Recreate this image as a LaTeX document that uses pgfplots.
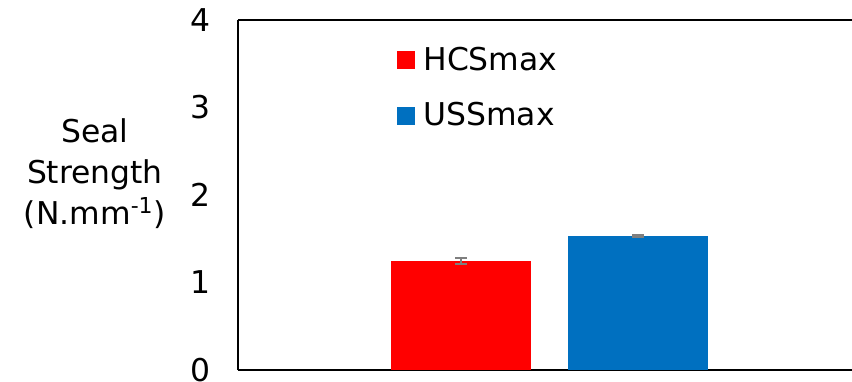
\documentclass[border=0pt]{standalone}
\usepackage{fontspec}
\setmainfont{DejaVu Sans}
\usepackage{pgfplots}
\pgfplotsset{compat=1.18}
\definecolor{hcs}{HTML}{FF0000}
\definecolor{uss}{HTML}{0070C0}
\definecolor{errgray}{HTML}{7F7F7F}
\begin{document}
\begin{tikzpicture}
\begin{axis}[
  scale only axis,
  width=307pt, height=175pt,
  xmin=0, xmax=1.971,
  ymin=0, ymax=4,
  axis x line*=box,
  axis y line*=left,
  axis line style={line width=1pt, black},
  xtick=\empty,
  ytick={0,1,2,3,4},
  ytick style={draw=none},
  /pgf/number format/assume math mode=true,
  yticklabel style={font=\fontsize{15.7}{18}\selectfont, anchor=east, xshift=-10pt},
  ybar=18.5pt, bar width=70pt,
  legend image code/.code={\fill[#1] (0pt,-4.5pt) rectangle (9pt,4.5pt);},
  legend cell align=left,
  legend style={draw=none, fill=none, at={(rel axis cs:0.259,0.806)}, anchor=west,
    font=\fontsize{15.7}{18}\selectfont, inner sep=0pt, row sep=14.5pt,
    nodes={inner sep=0pt, inner xsep=4pt}},
  clip=false,
]
\addplot[fill=hcs, draw=none,
  error bars/.cd, y dir=both, y explicit,
  error bar style={errgray, line width=1pt},
  error mark options={rotate=90, mark size=3pt, errgray, line width=1pt}]
  coordinates {(1,1.246) +- (0,0.034)};
\addlegendentry{HCSmax}
\addplot[fill=uss, draw=none,
  error bars/.cd, y dir=both, y explicit,
  error bar style={errgray, line width=1pt},
  error mark options={rotate=90, mark size=3pt, errgray, line width=1pt}]
  coordinates {(1,1.531) +- (0,0.008)};
\addlegendentry{USSmax}
\node[align=center, font=\fontsize{15.7}{20.5}\selectfont] at (rel axis cs:-0.233,0.562)
  {Seal\\Strength\\(N.mm\textsuperscript{-1})};
\coordinate (sw) at (rel axis cs:0,0);
\coordinate (ne) at (rel axis cs:1,1);
\end{axis}
\pgfresetboundingbox
\path[use as bounding box] ([xshift=-119pt,yshift=-5.5pt]sw) rectangle ([yshift=10pt]ne);
\end{tikzpicture}
\end{document}
